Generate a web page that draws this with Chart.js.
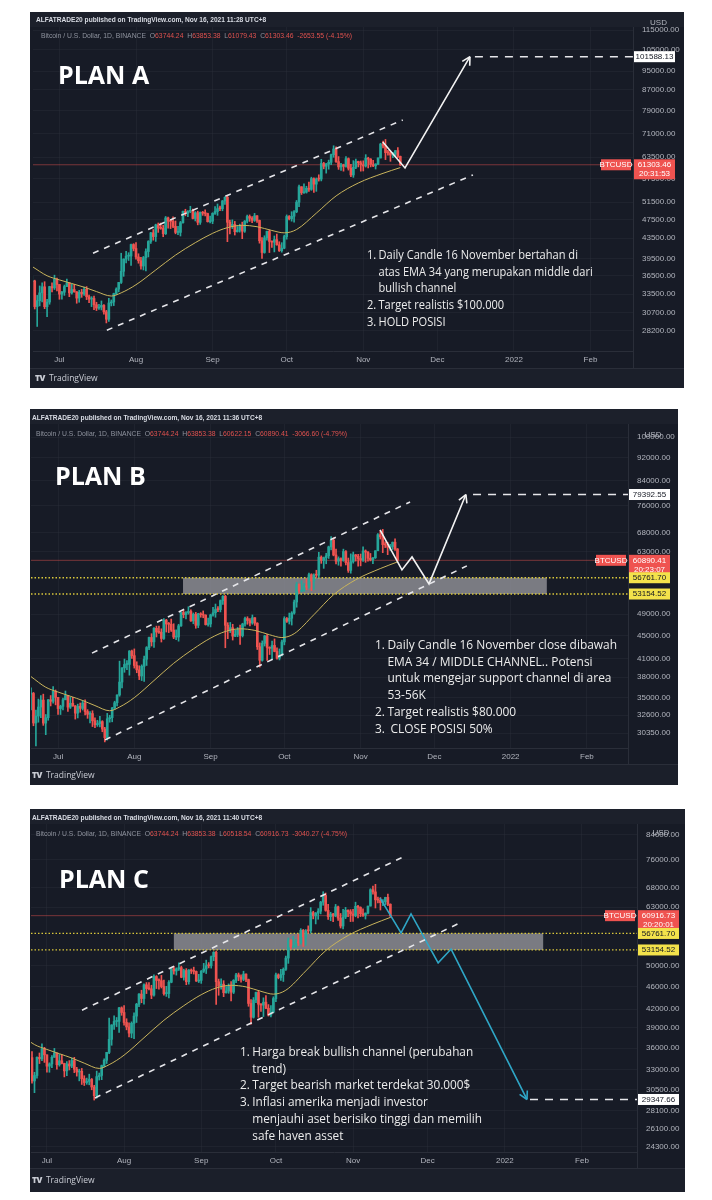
<!DOCTYPE html>
<html>
<head>
<meta charset="utf-8">
<script src="https://cdn.jsdelivr.net/npm/chart.js@4.4.1/dist/chart.umd.min.js"></script>
<style>
body{margin:0;background:#fff}
#page{position:relative;width:712px;height:1200px;overflow:hidden;background:#fff}
.panel{position:absolute;overflow:hidden;background:#171b26}
.panel canvas{position:absolute;left:0;top:0}
.hd1{position:absolute;font:bold 6.6px/9px "Liberation Sans",sans-serif;color:#d9dce4;white-space:nowrap}
.hd2{position:absolute;font:6.8px/9px "Liberation Sans",sans-serif;color:#8f939e;white-space:nowrap}
.hd2 .r{color:#e0524f}
.title{position:absolute;font:bold 25px/25px "Open Sans",sans-serif;color:#fff;white-space:nowrap}
.notes{position:absolute;font:13.5px/16.7px "Open Sans",sans-serif;color:#ececec;white-space:nowrap;transform-origin:0 0}
.notes .n{display:inline-block;width:14px}
.notes .in{padding-left:14px}
.foot{position:absolute;font:8.5px/10px "Open Sans",sans-serif;color:#c9ccd4;white-space:nowrap}
.foot b{font-weight:800;margin-right:4px;letter-spacing:-0.5px}
</style>
</head>
<body>
<div id="page">

<div class="panel" style="left:30px;top:12px;width:654px;height:376px">
  <canvas id="cA" width="654" height="376"></canvas>
  <div class="hd1" style="left:6px;top:3px">ALFATRADE20 published on TradingView.com, Nov 16, 2021 11:28 UTC+8</div>
  <div class="hd2" style="left:11px;top:19px">Bitcoin / U.S. Dollar, 1D, BINANCE &nbsp;O<span class="r">63744.24</span> &nbsp;H<span class="r">63853.38</span> &nbsp;L<span class="r">61079.43</span> &nbsp;C<span class="r">61303.46</span> &nbsp;<span class="r">-2653.55 (-4.15%)</span></div>
  <div class="title" style="left:28px;top:50px">PLAN A</div>
  <div class="notes" style="left:337px;top:234px;transform:scaleX(0.82)">
    <div><span class="n">1.</span>Daily Candle 16 November bertahan di</div>
    <div class="in">atas EMA 34 yang merupakan middle dari</div>
    <div class="in">bullish channel</div>
    <div><span class="n">2.</span>Target realistis $100.000</div>
    <div><span class="n">3.</span>HOLD POSISI</div>
  </div>
  <div class="foot" style="left:5px;top:361px"><b>TV</b>TradingView</div>
</div>

<div class="panel" style="left:30px;top:409px;width:648px;height:376px">
  <canvas id="cB" width="648" height="376"></canvas>
  <div class="hd1" style="left:2px;top:4px">ALFATRADE20 published on TradingView.com, Nov 16, 2021 11:36 UTC+8</div>
  <div class="hd2" style="left:6px;top:20px">Bitcoin / U.S. Dollar, 1D, BINANCE &nbsp;O<span class="r">63744.24</span> &nbsp;H<span class="r">63853.38</span> &nbsp;L<span class="r">60622.15</span> &nbsp;C<span class="r">60890.41</span> &nbsp;<span class="r">-3066.60 (-4.79%)</span></div>
  <div class="title" style="left:25px;top:54px">PLAN B</div>
  <div class="notes" style="left:345px;top:227px;transform:scaleX(0.885)">
    <div><span class="n">1.</span>Daily Candle 16 November close dibawah</div>
    <div class="in">EMA 34 / MIDDLE CHANNEL.. Potensi</div>
    <div class="in">untuk mengejar support channel di area</div>
    <div class="in">53-56K</div>
    <div><span class="n">2.</span>Target realistis $80.000</div>
    <div><span class="n">3.</span>&nbsp;CLOSE POSISI 50%</div>
  </div>
  <div class="foot" style="left:2px;top:361px"><b>TV</b>TradingView</div>
</div>

<div class="panel" style="left:30px;top:809px;width:655px;height:383px">
  <canvas id="cC" width="655" height="383"></canvas>
  <div class="hd1" style="left:2px;top:4px">ALFATRADE20 published on TradingView.com, Nov 16, 2021 11:40 UTC+8</div>
  <div class="hd2" style="left:6px;top:20px">Bitcoin / U.S. Dollar, 1D, BINANCE &nbsp;O<span class="r">63744.24</span> &nbsp;H<span class="r">63853.38</span> &nbsp;L<span class="r">60518.54</span> &nbsp;C<span class="r">60916.73</span> &nbsp;<span class="r">-3040.27 (-4.75%)</span></div>
  <div class="title" style="left:29px;top:57px">PLAN C</div>
  <div class="notes" style="left:210px;top:234px;transform:scaleX(0.875)">
    <div><span class="n">1.</span>Harga break bullish channel (perubahan</div>
    <div class="in">trend)</div>
    <div><span class="n">2.</span>Target bearish market terdekat 30.000$</div>
    <div><span class="n">3.</span>Inflasi amerika menjadi investor</div>
    <div class="in">menjauhi aset berisiko tinggi dan memilih</div>
    <div class="in">safe haven asset</div>
  </div>
  <div class="foot" style="left:2px;top:366px"><b>TV</b>TradingView</div>
</div>

</div>
<script>
// day 0 = 1 Jul 2021, first candle = 20 Jun 2021
const firstDay = -11;
const firstOpen = 35500;

// daily closes / highs / lows, 20 Jun .. 15 Nov 2021
const closes = [
  35600, 31600, 32500, 33700, 34660, 31590, 32280, 34700, 34490, 35910, 35040,
  33500, 33800, 34700, 35300, 33690, 34220, 33860, 32880, 33800, 33520, 34260, 33090, 32730, 32820, 31880, 31390,
  31530, 31780, 30840, 29790, 32140, 32290, 33580, 34290, 35380, 37270, 39460, 40010, 40020, 42230, 41460,
  39850, 39150, 38200, 39720, 40870, 42840, 44610, 43830, 46290, 45600, 45550, 44430, 47830, 47100, 47050, 45970,
  44690, 44700, 46760, 49340, 48900, 49290, 49550, 47700, 48990, 46850, 49080, 48900, 48810, 46990, 47110,
  48850, 49280, 49940, 49920, 51760, 52660, 46860, 46050, 46400, 44850, 45160, 46060, 44950, 47100, 48150,
  47760, 47300, 48300, 47260, 42980, 40690, 43570, 44900, 42850, 42700, 43200, 42170, 41030, 41520, 43820,
  48140, 47630, 48200, 49220, 51470, 55320, 53790, 53950, 54950, 54660, 57470, 56000, 57360, 57350, 61670, 60870,
  61530, 62010, 64280, 66000, 62210, 60690, 61300, 60850, 63080, 60330, 58460, 60590, 62250, 61890, 61320,
  60950, 63230, 62940, 61400, 61000, 61530, 63280, 67530, 66950, 64880, 64800, 64160, 64400, 65500, 63744.24
];
const highs = [
  36400, 35750, 33300, 34800, 35300, 35500, 32700, 34750, 35300, 36600, 36100,
  35050, 33950, 34950, 35950, 35300, 35100, 35050, 33900, 34100, 34250, 34600, 34700, 33350, 33100, 33200, 32250,
  31950, 32450, 31900, 31050, 32850, 32600, 33650, 34500, 35400, 40550, 39500, 40900, 40650, 42320, 42400,
  42600, 40450, 39800, 39950, 41400, 43000, 44700, 45300, 46450, 46700, 46700, 46200, 48150, 48000, 47400, 48050,
  47150, 46000, 47050, 49380, 49800, 49500, 50500, 49850, 49250, 49360, 49180, 49300, 49650, 48900, 48250,
  49000, 50400, 51050, 50550, 51900, 52800, 52900, 47350, 47400, 47050, 45950, 46450, 46900, 47250, 48450,
  48500, 48150, 48850, 48350, 47350, 43650, 44000, 44980, 45200, 42970, 43950, 44350, 42790, 42600, 44130,
  48500, 48350, 49230, 49500, 51890, 55750, 55340, 56100, 55450, 56550, 57850, 57680, 57650, 58500, 62900, 62000,
  61700, 62650, 64480, 67000, 66650, 63700, 61750, 61480, 63700, 63300, 61450, 62500, 62950, 62350, 62400,
  62450, 64270, 63500, 63100, 62600, 61590, 63290, 67790, 68520, 69000, 65600, 65450, 64950, 65550, 66400
];
const lows = [
  33300, 31250, 28800, 31700, 32300, 31300, 30150, 31950, 33850, 34230, 34000,
  32700, 32700, 33300, 34700, 33100, 33500, 33800, 32100, 32250, 33000, 33300, 32650, 32200, 31600, 31150, 31020,
  31170, 31110, 30500, 29280, 29500, 31700, 31750, 33400, 33850, 35200, 36400, 38770, 39200, 38320, 41000,
  39430, 38700, 37640, 37500, 37350, 39850, 42450, 43100, 42850, 44700, 45350, 43800, 44250, 45600, 45500, 45700,
  44400, 44200, 43950, 46650, 48300, 48100, 49000, 47600, 47150, 46300, 46400, 48400, 48300, 46900, 46700,
  46550, 48600, 48400, 49500, 49450, 50950, 42800, 44400, 45500, 44150, 44750, 44750, 43400, 44700, 46700,
  47050, 46750, 47050, 46850, 42500, 39600, 40550, 43100, 40680, 41650, 40800, 42100, 40880, 40750, 41400,
  43300, 47400, 47100, 46900, 49000, 50400, 53350, 53600, 53700, 54100, 54400, 53900, 54150, 56800, 56850, 60150,
  58950, 60050, 61350, 63480, 62000, 60000, 59700, 59500, 60650, 59800, 58000, 57800, 60200, 60700, 59500,
  59550, 60650, 60400, 60700, 60750, 60100, 61350, 63280, 66350, 62800, 64100, 62300, 63400, 63600, 63400
];
// 16 Nov candle in each snapshot (A, B, C)
const lastOpen = 63744.24;
const lastHigh = 63853.38;
const lastLows = [61079.43, 60622.15, 60518.54];
const lastCloses = [61303.46, 60890.41, 60916.73];
const countdowns = ['20:31:53', '20:23:07', '20:20:01'];

// EMA 34
const emaDays = [-11, -5, 0, 5, 10, 15, 21, 25, 31, 39, 47, 55, 62, 68, 74, 80, 86, 91, 96, 104, 112, 121, 131, 138];
const emaValues = [38100, 36500, 35800, 35200, 34600, 33900, 33200, 33700, 35000, 37500, 40200, 42600,
  44500, 45700, 46200, 45900, 45100, 44600, 45300, 48900, 53000, 56300, 58900, 60500];

const monthTickDays = [0, 31, 62, 92, 123, 153, 184, 215];
const monthTickLabels = ['Jul', 'Aug', 'Sep', 'Oct', 'Nov', 'Dec', '2022', 'Feb'];

const priceTicksA = [115000, 105000, 95000, 87000, 79000, 71000, 63500, 57500, 51500, 47500, 43500, 39500, 36500, 33500, 30700, 28200];
const priceTicksB = [100000, 92000, 84000, 76000, 68000, 63000, 49000, 45000, 41000, 38000, 35000, 32600, 30350];
const priceTicksC = [84000, 76000, 68000, 63000, 50000, 46000, 42000, 39000, 36000, 33000, 30500, 28100, 26100, 24300];

// drawings: [day, price]
const channelUpperA = [[13.6, 40560], [139.0, 75600]];
const channelLowerA = [[19.2, 28300], [167.4, 58460]];
const arrowPathA = [[130.9, 68200], [139.9, 60400], [166.2, 101588.13]];
const targetA = 101588.13;

const channelUpperB = [[13.8, 41880], [143.1, 77060]];
const channelLowerB = [[19.1, 29520], [166.2, 59540]];
const arrowPathB = [[130.9, 68830], [139.8, 58590], [143.9, 61720], [150.8, 55370], [165.8, 79392.55]];
const targetB = 79392.55;

const channelUpperC = [[14.1, 41850], [143.1, 76900]];
const channelLowerC = [[19.3, 29530], [166.8, 59430]];
const arrowPathC = [[133.8, 65360], [142.3, 56890], [146.3, 61350], [157.2, 50490], [162.4, 53350], [192.9, 29347.66]];
const targetC = 29347.66;

const supportZone = [56761.70, 53154.52];
const zoneDaysB = [50.8, 198.7];
const zoneDaysC = [51.0, 199.4];
const targetStart = [168.2, 168.7, 194.1];

const UP = '#26a69a', DOWN = '#ef5350';

function candleSeries(k) {
  const wick = [], body = [], col = [];
  const c = closes.concat([lastCloses[k]]);
  const h = highs.concat([lastHigh]);
  const l = lows.concat([lastLows[k]]);
  c.forEach((v, i) => {
    const o = i === 0 ? firstOpen : (i === c.length - 1 ? lastOpen : closes[i - 1]);
    const x = firstDay + i;
    wick.push({ x, y: [l[i], h[i]] });
    body.push({ x, y: [Math.min(o, v), Math.max(o, v)] });
    col.push(v >= o ? UP : DOWN);
  });
  return { wick, body, col };
}

function line(pts, color, width, dash, extra) {
  return Object.assign({
    type: 'line', data: pts.map(([x, y]) => ({ x, y })),
    borderColor: color, borderWidth: width, borderDash: dash || [],
    pointRadius: 0, fill: false, tension: 0, order: 0
  }, extra || {});
}

const tagStyle = {
  target: { bg: '#ffffff', fg: '#131722' },
  zone: { bg: '#f3e24b', fg: '#131722' },
  last: { bg: '#ef5350', fg: '#ffffff' }
};

function makeOverlay(p) {
  return {
    id: 'overlay',
    beforeDraw(chart) {
      const { ctx, width, height, chartArea: a } = chart;
      const xb = chart.scales.x.bottom;
      ctx.save();
      ctx.fillStyle = '#171b26'; ctx.fillRect(0, 0, width, height);
      ctx.fillStyle = '#1c202b'; ctx.fillRect(0, 0, width, a.top);
      ctx.fillStyle = '#1b1f2a'; ctx.fillRect(0, xb, width, height - xb);
      ctx.restore();
    },
    beforeDatasetsDraw(chart) {
      if (!p.zoneDays) return;
      const { ctx } = chart, x = chart.scales.x, y = chart.scales.y;
      const x0 = x.getPixelForValue(p.zoneDays[0]), x1 = x.getPixelForValue(p.zoneDays[1]);
      const y0 = y.getPixelForValue(supportZone[0]), y1 = y.getPixelForValue(supportZone[1]);
      ctx.save();
      ctx.fillStyle = 'rgba(150,150,156,0.78)';
      ctx.fillRect(x0, y0, x1 - x0, y1 - y0);
      ctx.restore();
    },
    afterDatasetsDraw(chart) {
      const ctx = chart.ctx;
      chart.data.datasets.forEach((ds, i) => {
        if (!ds.arrowHead) return;
        const pts = chart.getDatasetMeta(i).data;
        const a = pts[pts.length - 2], b = pts[pts.length - 1];
        const ang = Math.atan2(b.y - a.y, b.x - a.x);
        ctx.save();
        ctx.strokeStyle = ds.borderColor; ctx.lineWidth = ds.borderWidth;
        ctx.beginPath();
        [-1, 1].forEach(sg => {
          ctx.moveTo(b.x, b.y);
          ctx.lineTo(b.x - 9 * Math.cos(ang + sg * 0.5), b.y - 9 * Math.sin(ang + sg * 0.5));
        });
        ctx.stroke();
        ctx.restore();
      });
    },
    afterDraw(chart) {
      const { ctx, width, chartArea: a } = chart;
      const y = chart.scales.y, xb = chart.scales.x.bottom;
      ctx.save();
      ctx.strokeStyle = '#2a2e39'; ctx.lineWidth = 1;
      ctx.beginPath();
      ctx.moveTo(0, xb + 0.5); ctx.lineTo(width, xb + 0.5);
      ctx.moveTo(Math.round(a.right) + 0.5, a.bottom); ctx.lineTo(Math.round(a.right) + 0.5, xb);
      ctx.stroke();
      ctx.font = '8px "Liberation Sans", sans-serif';
      ctx.textBaseline = 'middle'; ctx.textAlign = 'center';
      ctx.fillStyle = '#b2b5be';
      ctx.fillText('USD', a.right + (width - a.right) / 2, a.top + p.usdDy);
      p.tags.forEach(t => {
        const st = tagStyle[t.kind];
        const yy = y.getPixelForValue(t.value);
        const x0 = a.right + 1, w = 41;
        const h = t.sub ? 20 : 11;
        ctx.fillStyle = st.bg; ctx.fillRect(x0, yy - 5.5, w, h);
        ctx.fillStyle = st.fg;
        ctx.fillText(t.value.toFixed(2), x0 + w / 2, yy);
        if (t.sub) ctx.fillText(t.sub, x0 + w / 2, yy + 9);
        if (t.kind === 'last') {
          ctx.fillStyle = st.bg; ctx.fillRect(a.right - 32, yy - 5.5, 30, 11);
          ctx.fillStyle = st.fg; ctx.fillText('BTCUSD', a.right - 17, yy);
        }
      });
      ctx.restore();
    }
  };
}

function drawPanel(p) {
  const s = candleSeries(p.k);
  const datasets = [
    line(p.upper, '#e6e6ea', 1.6, [6, 6]),
    line(p.lower, '#e6e6ea', 1.6, [6, 6]),
    line(p.arrow, p.arrowColor, 1.6, [], { arrowHead: true }),
    line([[targetStart[p.k], p.target], [p.xMax, p.target]], '#e6e6ea', 1.6, [8, 7])
  ];
  if (p.zoneDays) {
    supportZone.forEach(v => datasets.push(line([[p.xMin, v], [p.xMax, v]], '#d9c83b', 1.3, [1.5, 2], { order: 4 })));
  }
  datasets.push(line([[p.xMin, lastCloses[p.k]], [p.xMax, lastCloses[p.k]]], 'rgba(220,80,78,0.5)', 1, [], { order: 6 }));
  datasets.push({
    type: 'line', data: emaDays.map((d, i) => ({ x: d, y: emaValues[i] })),
    borderColor: '#c9b45c', borderWidth: 1, pointRadius: 0, fill: false,
    cubicInterpolationMode: 'monotone', order: 1
  });
  datasets.push({ type: 'bar', data: s.body, backgroundColor: s.col, barThickness: 2, minBarLength: 1, grouped: false, order: 2 });
  datasets.push({ type: 'bar', data: s.wick, backgroundColor: s.col, barThickness: 1, grouped: false, order: 3 });

  const tickFont = { family: 'Liberation Sans', size: 8 };
  new Chart(document.getElementById(p.id), {
    type: 'bar',
    data: { datasets },
    options: {
      responsive: false, animation: false, devicePixelRatio: 1,
      layout: { padding: p.pad },
      plugins: { legend: { display: false }, tooltip: { enabled: false } },
      scales: {
        x: {
          type: 'linear', min: p.xMin, max: p.xMax, offset: false,
          afterBuildTicks: sc => { sc.ticks = monthTickDays.map(v => ({ value: v })); },
          afterFit: sc => { sc.height = p.xAxisH; },
          ticks: { autoSkip: false, maxRotation: 0, padding: 4, color: '#b2b5be', font: tickFont,
            callback: (v, i) => monthTickLabels[i] },
          grid: { color: 'rgba(42,46,57,0.45)', drawTicks: false, offset: false },
          border: { color: '#2a2e39' }
        },
        y: {
          type: 'logarithmic', position: 'right', min: p.yMin, max: p.yMax,
          afterBuildTicks: sc => { sc.ticks = p.priceTicks.map(v => ({ value: v })); },
          afterFit: sc => { sc.width = p.yAxisW; },
          ticks: { crossAlign: 'near', padding: 9, color: '#b2b5be', font: tickFont,
            callback: v => Number(v).toFixed(2) },
          grid: { color: 'rgba(42,46,57,0.45)', drawTicks: false },
          border: { color: '#2a2e39' }
        }
      }
    },
    plugins: [makeOverlay(p)]
  });
}

drawPanel({
  k: 0, id: 'cA', xMin: -10.7, xMax: 232.2, yMin: 25680, yMax: 116700, priceTicks: priceTicksA,
  upper: channelUpperA, lower: channelLowerA, arrow: arrowPathA, arrowColor: '#f2f2f2', target: targetA,
  zoneDays: null, pad: { left: 3, top: 15, right: 0, bottom: 20 }, yAxisW: 51, xAxisH: 17, usdDy: -4,
  tags: [{ kind: 'last', value: lastCloses[0], sub: countdowns[0] }, { kind: 'target', value: targetA }]
});
drawPanel({
  k: 1, id: 'cB', xMin: -11.0, xMax: 231.7, yMin: 28570, yMax: 105500, priceTicks: priceTicksB,
  upper: channelUpperB, lower: channelLowerB, arrow: arrowPathB, arrowColor: '#f2f2f2', target: targetB,
  zoneDays: zoneDaysB, pad: { left: 1, top: 15, right: 0, bottom: 21 }, yAxisW: 50, xAxisH: 16, usdDy: 11,
  tags: [{ kind: 'last', value: lastCloses[1], sub: countdowns[1] }, { kind: 'zone', value: supportZone[0] },
    { kind: 'zone', value: supportZone[1] }, { kind: 'target', value: targetB }]
});
drawPanel({
  k: 2, id: 'cC', xMin: -6.4, xMax: 237.1, yMin: 23820, yMax: 87680, priceTicks: priceTicksC,
  upper: channelUpperC, lower: channelLowerC, arrow: arrowPathC, arrowColor: '#2fa6c6', target: targetC,
  zoneDays: zoneDaysC, pad: { left: 1, top: 15, right: 0, bottom: 24 }, yAxisW: 48, xAxisH: 16, usdDy: 9,
  tags: [{ kind: 'last', value: lastCloses[2], sub: countdowns[2] }, { kind: 'zone', value: supportZone[0] },
    { kind: 'zone', value: supportZone[1] }, { kind: 'target', value: targetC }]
});
</script>
</body>
</html>
